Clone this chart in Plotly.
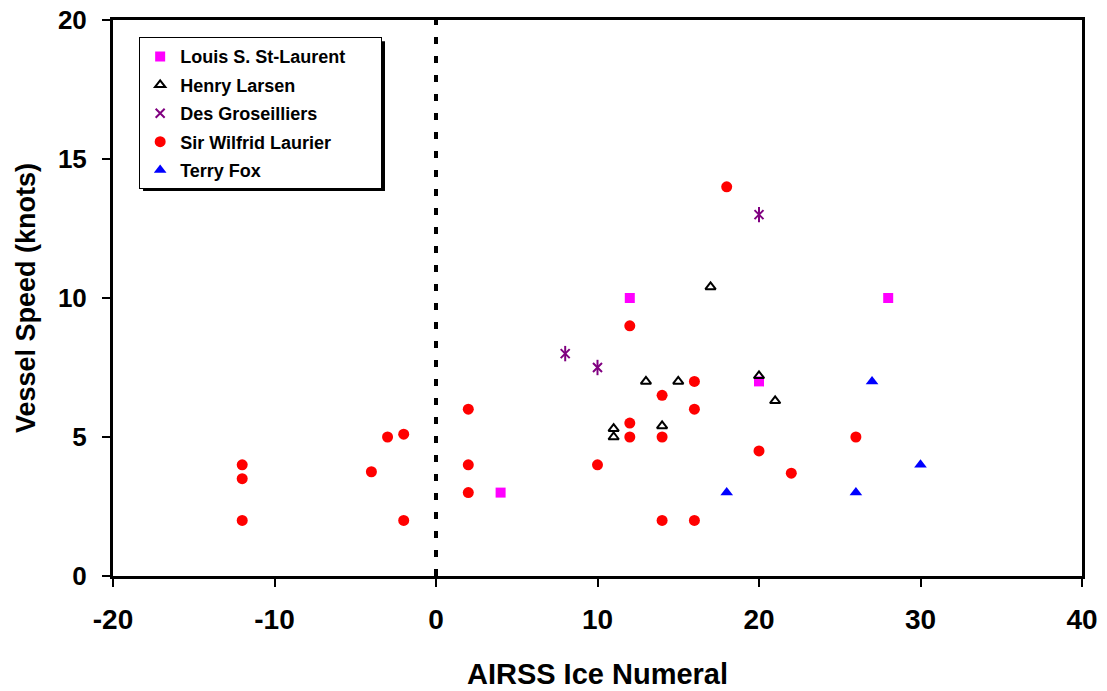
import plotly.graph_objects as go

# AIRSS ice numeral (x) vs. vessel speed in knots (y), one list pair per ship
lsl_x = [4, 12, 20, 28]
lsl_y = [3, 10, 7, 10]

hl_x = [11, 11, 13, 14, 15, 17, 20, 21]
hl_y = [5.0, 5.3, 7, 5.4, 7, 10.4, 7.2, 6.3]

dg_x = [8, 10, 20]
dg_y = [8, 7.5, 13]

swl_x = [-12, -12, -12, -4, -3, -2, -2, 2, 2, 2, 10, 12, 12, 12, 14, 14, 14, 16, 16, 16, 18, 20, 22, 26]
swl_y = [4, 3.5, 2, 3.75, 5, 5.1, 2, 6, 4, 3, 4, 9, 5.5, 5, 6.5, 5, 2, 7, 6, 2, 14, 4.5, 3.7, 5]

tf_x = [18, 26, 27, 30]
tf_y = [3, 3, 7, 4]

x_ticks = [-20, -10, 0, 10, 20, 30, 40]
x_tick_text = ["-20", "-10", "0", "10", "20", "30", "40"]
y_ticks = [0, 5, 10, 15, 20]

FONT = "Liberation Sans, Arial, sans-serif"
PAD = "\u00a0" * 6  # widens the legend box on the right

fig = go.Figure()
fig.add_trace(go.Scatter(x=lsl_x, y=lsl_y, mode="markers", name="Louis S. St-Laurent" + PAD,
                         legendgroup="a",
                         marker=dict(symbol="square", size=10, color="#FF00FF")))
fig.add_trace(go.Scatter(x=hl_x, y=hl_y, mode="markers", name="Henry Larsen",
                         legendgroup="b",
                         marker=dict(symbol="triangle-up-open", size=9, color="black",
                                     line=dict(width=2, color="black"))))
# six-armed star: a thin X plus a vertical stroke
fig.add_trace(go.Scatter(x=dg_x, y=dg_y, mode="markers", name="Des Groseilliers",
                         legendgroup="c",
                         marker=dict(symbol="x-thin-open", size=9, color="#800080",
                                     line=dict(width=2, color="#800080"))))
fig.add_trace(go.Scatter(x=dg_x, y=dg_y, mode="markers", name="Des Groseilliers",
                         legendgroup="c", showlegend=False, hoverinfo="skip",
                         marker=dict(symbol="line-ns-open", size=11, color="#800080",
                                     line=dict(width=2, color="#800080"))))
fig.add_trace(go.Scatter(x=swl_x, y=swl_y, mode="markers", name="Sir Wilfrid Laurier",
                         legendgroup="d",
                         marker=dict(symbol="circle", size=11, color="#FF0000")))
fig.add_trace(go.Scatter(x=tf_x, y=tf_y, mode="markers", name="Terry Fox",
                         legendgroup="e",
                         marker=dict(symbol="triangle-up", size=11, color="#0000FF")))

# dotted reference line at ice numeral 0
fig.add_shape(type="line", xref="x", yref="y", x0=0, x1=0, y0=0, y1=20,
              line=dict(color="black", width=4, dash="7px,12px"), layer="below")

# drop shadow behind the legend box
fig.add_shape(type="rect", xref="paper", yref="paper",
              x0=0.0310, x1=0.2807, y0=0.6925, y1=0.962,
              fillcolor="black", line=dict(width=0), layer="above")

fig.update_layout(
    width=1107, height=691,
    margin=dict(l=113, r=25, t=20, b=115, autoexpand=False),
    paper_bgcolor="white", plot_bgcolor="white",
    font=dict(family=FONT, color="black"),
    showlegend=True,
    legend=dict(x=0.027, y=0.969, xanchor="left", yanchor="top",
                bgcolor="white", bordercolor="black", borderwidth=1,
                font=dict(size=18, family=FONT, weight="bold"),
                tracegroupgap=2, itemwidth=30),
    xaxis=dict(range=[-20, 40], tickvals=x_ticks, ticktext=x_tick_text, automargin=False,
               ticks="outside", ticklen=8, tickwidth=2, ticklabelstandoff=8,
               tickcolor="black", showline=True, linecolor="black", linewidth=3, mirror=True,
               showgrid=False, zeroline=False,
               tickfont=dict(size=28, family=FONT, weight="bold"),
               title=dict(text="AIRSS Ice Numeral", standoff=31,
                          font=dict(size=29, family=FONT, weight="bold"))),
    yaxis=dict(range=[0, 20], tickvals=y_ticks, ticks="outside", ticklen=8, tickwidth=2,
               ticklabelstandoff=10, automargin=False,
               tickcolor="black", showline=True, linecolor="black", linewidth=3, mirror=True,
               showgrid=False, zeroline=False,
               tickfont=dict(size=26, family=FONT, weight="bold"),
               title=dict(text="Vessel Speed (knots)", standoff=15,
                          font=dict(size=27, family=FONT, weight="bold"))),
)

fig.write_html("out.html")
